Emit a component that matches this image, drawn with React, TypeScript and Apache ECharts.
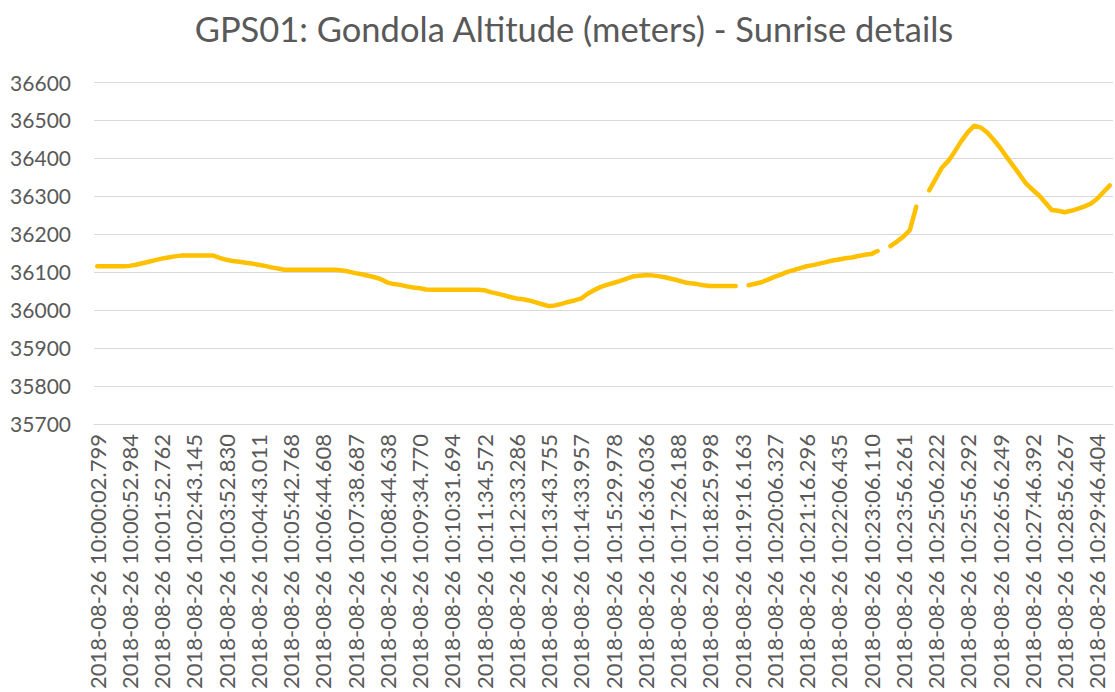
import React, { useEffect, useRef } from "react";
import * as echarts from "echarts";

const TITLE = "GPS01: Gondola Altitude (meters) - Sunrise details";
const DATE_PREFIX = "2018-08-26 ";
const LABEL_STEP = 5;
const labelTimes = [
  "10:00:02.799", "10:00:52.984", "10:01:52.762", "10:02:43.145", "10:03:52.830",
  "10:04:43.011", "10:05:42.768", "10:06:44.608", "10:07:38.687", "10:08:44.638",
  "10:09:34.770", "10:10:31.694", "10:11:34.572", "10:12:33.286", "10:13:43.755",
  "10:14:33.957", "10:15:29.978", "10:16:36.036", "10:17:26.188", "10:18:25.998",
  "10:19:16.163", "10:20:06.327", "10:21:16.296", "10:22:06.435", "10:23:06.110",
  "10:23:56.261", "10:25:06.222", "10:25:56.292", "10:26:56.249", "10:27:46.392",
  "10:28:56.267", "10:29:46.404",
];

// altitude (m) for each sample; null = missing reading
const altitude: (number | null)[] = [
  36115, 36115, 36115, 36115, 36115, 36116, 36119, 36123, 36127, 36131,
  36135, 36138, 36141, 36143, 36143, 36143, 36143, 36143, 36143, 36137,
  36132, 36129, 36127, 36124, 36122, 36119, 36116, 36112, 36109, 36106,
  36106, 36106, 36106, 36106, 36106, 36106, 36106, 36106, 36104, 36101,
  36097, 36094, 36090, 36086, 36081, 36072, 36068, 36066, 36062, 36059,
  36057, 36054, 36053, 36053, 36053, 36053, 36053, 36053, 36053, 36053,
  36052, 36047, 36043, 36039, 36034, 36030, 36028, 36025, 36020, 36015,
  36010, 36012, 36016, 36021, 36025, 36030, 36042, 36052, 36060, 36066,
  36071, 36076, 36082, 36088, 36090, 36091, 36091, 36089, 36086, 36082,
  36078, 36073, 36070, 36068, 36065, 36063, 36063, 36063, 36063, 36063,
  null, 36065, 36069, 36073, 36080, 36087, 36093, 36100, 36105, 36110,
  36115, 36118, 36122, 36126, 36130, 36133, 36136, 36138, 36142, 36145,
  36147, 36155, null, 36168, 36180, 36193, 36210, 36272, null, 36315,
  36345, 36375, 36393, 36418, 36445, 36468, 36485, 36480, 36467, 36448,
  36427, 36403, 36380, 36357, 36333, 36317, 36302, 36283, 36263, 36261,
  36257, 36261, 36266, 36272, 36279, 36292, 36310, 36328,
];

const Y_MIN = 35700;
const Y_MAX = 36600;
const Y_STEP = 100;

const FONT = "Lato, 'Noto Sans', sans-serif";
const TEXT_COLOR = "#595959";

export default function App() {
  const ref = useRef<HTMLDivElement>(null);

  useEffect(() => {
    if (!ref.current) return;
    const chart = echarts.init(ref.current, null, { renderer: "svg" });
    const categories = altitude.map((_, i) =>
      i % LABEL_STEP === 0 && labelTimes[i / LABEL_STEP]
        ? DATE_PREFIX + labelTimes[i / LABEL_STEP]
        : ""
    );
    chart.setOption({
      animation: false,
      backgroundColor: "#ffffff",
      title: {
        text: TITLE,
        left: 569,
        textAlign: "center",
        top: 6,
        textStyle: {
          fontFamily: FONT,
          fontSize: 34.5,
          fontWeight: "normal",
          color: TEXT_COLOR,
        },
      },
      grid: { left: 94, right: 2, top: 82, bottom: 264 },
      xAxis: {
        type: "category",
        data: categories,
        boundaryGap: true,
        axisLine: { show: true, lineStyle: { color: "#d9d9d9", width: 1 } },
        axisTick: { show: false },
        axisLabel: {
          rotate: 90,
          interval: (index: number) => index % LABEL_STEP === 0,
          margin: 10,
          fontFamily: FONT,
          fontSize: 22,
          color: TEXT_COLOR,
        },
        splitLine: { show: false },
      },
      yAxis: {
        type: "value",
        min: Y_MIN,
        max: Y_MAX,
        interval: Y_STEP,
        axisLine: { show: false },
        axisTick: { show: false },
        axisLabel: {
          margin: 23,
          fontFamily: FONT,
          fontSize: 21,
          color: TEXT_COLOR,
          formatter: (v: number) => String(v),
        },
        splitLine: { show: true, lineStyle: { color: "#d9d9d9", width: 1 } },
      },
      series: [
        {
          type: "line",
          data: altitude,
          showSymbol: false,
          symbol: "none",
          connectNulls: false,
          lineStyle: { color: "#FFC000", width: 4.5, cap: "round", join: "round" },
          itemStyle: { color: "#FFC000" },
        },
      ],
    });
    return () => chart.dispose();
  }, []);

  return (
    <div
      ref={ref}
      style={{ position: "fixed", left: 0, top: 0, width: 1115, height: 692, background: "#fff" }}
    />
  );
}
